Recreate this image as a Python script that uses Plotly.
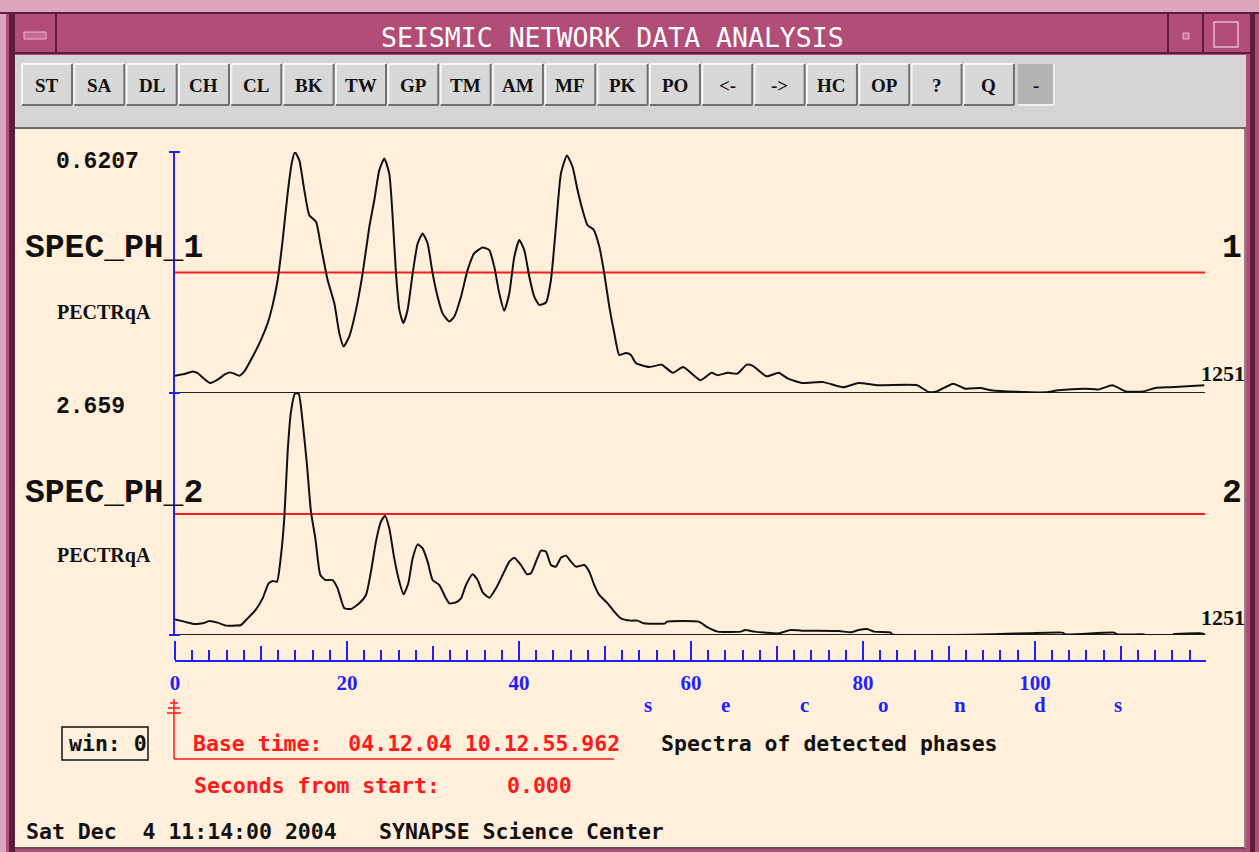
import plotly.graph_objects as go

W, H = 1259, 852

# ---------------- data ----------------
t1 = [0.0, 1.09, 2.05, 2.64, 3.41, 4.11, 4.96, 5.74, 6.32, 6.90, 7.48, 8.06, 8.84, 10.0, 10.78,
      11.36, 11.94, 12.52, 13.10, 13.57, 13.95, 14.46, 15.04, 15.62, 16.40, 16.98, 17.75, 18.53,
      19.11, 19.61, 20.27, 21.05, 21.82, 22.60, 23.18, 23.76, 24.34, 24.92, 25.31, 25.70, 26.09,
      26.55, 27.05, 27.64, 28.22, 28.80, 29.38, 29.96, 30.54, 31.12, 31.90, 32.48, 33.26, 34.03,
      34.81, 35.78, 36.55, 37.13, 37.71, 38.29, 38.88, 39.46, 40.04, 40.62, 41.20, 41.78, 42.36,
      43.14, 43.72, 44.30, 44.88, 45.58, 46.24, 46.82, 47.40, 47.98, 48.68, 49.34, 49.92, 50.50,
      51.09, 51.67, 52.44, 53.02,
      53.6, 55.2, 56.6, 57.9, 59.1, 61.1, 62.4, 63.1, 64.3, 65.4, 66.5, 67.2, 68.8, 70.2, 71.3,
      72.9, 75.4, 77.7, 79.5, 81.8, 86.3, 87.6, 88.5, 90.5, 91.9, 93.7, 94.9, 97.9, 101.3, 102.7,
      105.8, 107.4, 109.0, 110.6, 112.6, 114.0, 115.8, 119.7]
v1 = [0.0445, 0.0488, 0.0556, 0.0514, 0.036, 0.0257, 0.0342, 0.0471, 0.0531, 0.0497, 0.0445,
      0.0556, 0.0856, 0.137, 0.180, 0.227, 0.291, 0.394, 0.514, 0.591, 0.6207, 0.599, 0.522,
      0.458, 0.441, 0.377, 0.291, 0.231, 0.154, 0.120, 0.146, 0.214, 0.308, 0.428, 0.497, 0.574,
      0.604, 0.565, 0.454, 0.308, 0.214, 0.180, 0.214, 0.308, 0.385, 0.411, 0.385, 0.308, 0.248,
      0.205, 0.184, 0.197, 0.248, 0.317, 0.360, 0.375, 0.368, 0.325, 0.257, 0.212, 0.257, 0.351,
      0.394, 0.368, 0.300, 0.248, 0.227, 0.233, 0.291, 0.428, 0.565, 0.612, 0.582, 0.522, 0.471,
      0.432, 0.421, 0.377, 0.308, 0.223, 0.154, 0.098, 0.103, 0.098,
      0.077, 0.067, 0.073, 0.052, 0.067, 0.033, 0.052, 0.046, 0.052, 0.050, 0.073, 0.070, 0.043,
      0.052, 0.037, 0.026, 0.028, 0.015, 0.026, 0.020, 0.020, 0.003, 0.003, 0.024, 0.011, 0.013,
      0.007, 0.003, 0.002, 0.007, 0.011, 0.009, 0.020, 0.004, 0.004, 0.013, 0.015, 0.020]

t2 = [0.0, 1.09, 2.25, 3.22, 4.0, 4.96, 5.93, 6.90, 7.67, 8.45, 9.42, 10.19, 10.89, 11.36, 11.86,
      12.33, 12.71, 13.10, 13.49, 13.95, 14.38, 14.84, 15.35, 15.81, 16.32, 16.90, 17.48, 18.33,
      18.91, 19.69, 20.47, 21.43, 22.21, 22.79, 23.37, 23.95, 24.42, 24.92, 25.50, 26.09, 26.59,
      27.13, 27.64, 28.22, 28.80, 29.38, 29.96, 30.74, 31.51, 31.90, 32.67, 33.26, 33.84, 34.61,
      35.19, 35.78, 36.55, 37.33, 38.10, 38.88, 39.46, 40.23, 40.93, 41.40, 41.98, 42.56, 43.14,
      43.72, 44.30, 44.88, 45.47, 46.05, 46.63, 47.60, 48.18, 48.76, 49.34, 50.31, 51.09, 51.86,
      53.02,
      53.8, 54.5, 57.0, 57.2, 60.9, 61.8, 63.1, 65.8, 66.3, 67.4, 70.2, 70.9, 71.6, 72.9, 77.2,
      78.6, 79.5, 80.5, 81.3, 83.2, 83.4, 95.0, 103.2, 103.6, 109.2, 109.6, 112.5, 113.0, 116.0,
      116.2, 119.2, 119.8]
v2 = [0.172, 0.147, 0.121, 0.128, 0.154, 0.136, 0.103, 0.103, 0.110, 0.183, 0.282, 0.403, 0.568,
      0.593, 0.586, 0.879, 1.282, 2.015, 2.454, 2.652, 2.652, 2.344, 1.868, 1.355, 1.062, 0.659,
      0.604, 0.604, 0.513, 0.293, 0.286, 0.348, 0.440, 0.696, 1.026, 1.245, 1.311, 1.172, 0.842,
      0.586, 0.447, 0.568, 0.842, 0.996, 0.952, 0.806, 0.604, 0.549, 0.403, 0.348, 0.359, 0.403,
      0.549, 0.667, 0.604, 0.469, 0.410, 0.513, 0.659, 0.806, 0.850, 0.769, 0.667, 0.678, 0.806,
      0.927, 0.916, 0.769, 0.751, 0.850, 0.872, 0.806, 0.751, 0.769, 0.696, 0.549, 0.440, 0.348,
      0.256, 0.183, 0.158,
      0.158, 0.128, 0.128, 0.147, 0.147, 0.092, 0.037, 0.037, 0.055, 0.037, 0.018, 0.037, 0.055,
      0.048, 0.044, 0.029, 0.055, 0.066, 0.037, 0.029, 0.007, 0.007, 0.026, 0.007, 0.026, 0.007,
      0.007, 0.0, 0.0, 0.011, 0.018, 0.007]

Y1_MAX = 0.6207
Y2_MAX = 2.659
Y1_LABEL = "0.6207"
Y2_LABEL = "2.659"
TRACE_NAMES = ["SPEC_PH_1", "SPEC_PH_2"]
TRACE_NUMS = ["1", "2"]
COMPONENT = "PECTRqA"
NSAMP = "1251"
X_TICKS = [0, 20, 40, 60, 80, 100]
X_MEDIUM = [10, 30, 50, 70, 90, 110]
X_MINOR = [v for v in range(2, 120, 2) if v % 10 != 0]
UNIT_LETTERS = ["s", "e", "c", "o", "n", "d", "s"]
BUTTONS = ["ST", "SA", "DL", "CH", "CL", "BK", "TW", "GP", "TM", "AM", "MF", "PK", "PO",
           "<-", "->", "HC", "OP", "?", "Q"]
TITLE = "SEISMIC NETWORK DATA ANALYSIS"

# ---------------- styling ----------------
BLUE = "#1f1fff"
RED = "#ff1a1a"
PANEL = "#ffefdb"
PINK = "#b24d78"
PINK_LIGHT = "#dca4bd"
MAROON = "#5c1d3a"
GRAY = "#d4d4d4"
MONO = "Liberation Mono, DejaVu Sans Mono, monospace"
SERIF = "Liberation Serif, DejaVu Serif, serif"
NARROW = "DejaVu Sans Mono, Liberation Mono, monospace"
TITLEFONT = "DejaVu Sans Mono, monospace"


def X(px):
    return px / W


def Y(py):
    return 1 - py / H


XD = [X(175), X(1206)]
XR = [0, 119.9]

fig = go.Figure()
fig.add_trace(go.Scatter(x=t1, y=v1, mode="lines",
                         line=dict(color="#111111", width=2, shape="spline", smoothing=0.5),
                         xaxis="x", yaxis="y", hoverinfo="skip"))
fig.add_trace(go.Scatter(x=t2, y=v2, mode="lines",
                         line=dict(color="#111111", width=2, shape="spline", smoothing=0.5),
                         xaxis="x", yaxis="y2", hoverinfo="skip"))
# empty traces so the ruler axes get drawn
for xa in ("x2", "x3", "x4"):
    fig.add_trace(go.Scatter(x=[None], y=[None], mode="lines", xaxis=xa, yaxis="y2",
                             hoverinfo="skip", showlegend=False))

shapes = []


def rect(x0, y0, x1, y1, fill=None, line=None, lw=0, layer="below"):
    shapes.append(dict(type="rect", xref="paper", yref="paper", x0=X(x0), x1=X(x1),
                       y0=Y(y0), y1=Y(y1), fillcolor=fill or "rgba(0,0,0,0)",
                       line=dict(color=line or "rgba(0,0,0,0)", width=lw), layer=layer))


def seg(x0, y0, x1, y1, color, lw=1, layer="below"):
    shapes.append(dict(type="line", xref="paper", yref="paper", x0=X(x0), x1=X(x1),
                       y0=Y(y0), y1=Y(y1), line=dict(color=color, width=lw), layer=layer))


# window frame
rect(0, 0, W, 13, fill=PINK_LIGHT)
rect(0, 0, 6, H, fill=PINK_LIGHT)
rect(9, 13, 15, H, fill=MAROON)
rect(1250, 13, 1255, H, fill=MAROON)
seg(0, 13, W, 13, MAROON, 2)
seg(9, 53, 1250, 53, MAROON, 2)
for xx in (56, 1168, 1203):
    seg(xx, 14, xx, 52, MAROON, 2)
# title bar widgets
rect(24, 32, 46, 39, fill="#c86a92", line="#e8b8cc", lw=1)
rect(1183, 33, 1189, 39, fill="#c86a92", line="#e8b8cc", lw=1)
rect(1214, 22, 1238, 47, fill=PINK, line="#e8b8cc", lw=1.5)

# toolbar
rect(15, 55, 1246, 128, fill=GRAY)
seg(15, 128, 1246, 128, "#6a6a6a", 2)
# plotting panel
rect(15, 129, 1246, 847, fill=PANEL)
seg(15, 848, 1246, 848, "#555555", 2)
seg(1245, 129, 1245, 848, "#888888", 2)

# buttons
for i, lab in enumerate(BUTTONS):
    bx0 = 22 + i * 52.33
    bx1 = bx0 + 50
    rect(bx0, 64, bx1, 105, fill="#d8d8d8")
    seg(bx0, 64, bx1, 64, "#f6f6f6", 2)
    seg(bx0, 64, bx0, 105, "#f6f6f6", 2)
    seg(bx0, 105, bx1, 105, "#707070", 2)
    seg(bx1, 64, bx1, 105, "#707070", 2)
rect(1018, 64, 1054, 105, fill="#b4b4b4")
seg(1018, 105, 1054, 105, "#f0f0f0", 2)
seg(1054, 64, 1054, 105, "#f0f0f0", 2)

# traces decorations: red midlines & black baselines (data coordinates)
for yref, ymax in (("y", Y1_MAX), ("y2", Y2_MAX)):
    shapes.append(dict(type="line", xref="x", yref=yref, x0=0, x1=119.8, y0=ymax / 2, y1=ymax / 2,
                       line=dict(color=RED, width=2), layer="below"))
    shapes.append(dict(type="line", xref="x", yref=yref, x0=0, x1=119.8, y0=0, y1=0,
                       line=dict(color="#222222", width=2), layer="below"))
# small blue cross ticks on vertical axis
for yy in (152, 393, 635):
    seg(169, yy, 180, yy, BLUE, 2, layer="above")

# cursor marker and bracket
seg(174, 699, 174, 759, RED, 1.5, layer="above")
seg(174, 759, 614, 759, RED, 1.5, layer="above")
for yy, hw in ((703, 4), (708, 6), (713, 7)):
    seg(174 - hw, yy, 174 + hw, yy, RED, 1.5, layer="above")
# win box
rect(62, 727, 148, 760, line="#111111", lw=1.5, layer="above")

annotations = []


def ann(text, x, y, size, color="#111111", family=MONO, weight="bold", xanchor="left"):
    annotations.append(dict(text=text, x=X(x), y=Y(y), xref="paper", yref="paper",
                            showarrow=False, xanchor=xanchor, yanchor="middle",
                            font=dict(size=size, color=color, family=family, weight=weight)))


ann(TITLE, 612, 37, 26.5, color="#ffffff", family=TITLEFONT, weight=300, xanchor="center")
for i, lab in enumerate(BUTTONS):
    ann(lab, 22 + i * 52.33 + 25, 85, 19, family=SERIF, xanchor="center")
ann("-", 1036, 85, 19, family=SERIF, xanchor="center")

# trace labels
for ytop, ymid, ycomp, ynum, lab, name, num in ((162, 249, 313, 373, Y1_LABEL, TRACE_NAMES[0], TRACE_NUMS[0]),
                                                (407, 493, 555, 617, Y2_LABEL, TRACE_NAMES[1], TRACE_NUMS[1])):
    ann(lab, 54, ytop, 23)
    ann(name, 23, ymid, 33)
    ann(COMPONENT, 55, ycomp, 20, family=SERIF)
    ann(num, 1232, ymid, 33, xanchor="center")
    ann(NSAMP, 1199, ynum, 22, family=SERIF)

# axis unit letters
for lx, letter in zip([648, 725, 804, 883, 960, 1040, 1118], UNIT_LETTERS):
    ann(letter, lx, 705, 21, color=BLUE, family=SERIF, xanchor="center")

# info texts
TXT = 21.5
ann("win:\u00a00", 67, 743, TXT, family=NARROW, weight="bold")
ann("Base time:\u00a0\u00a004.12.04 10.12.55.962", 191, 743, TXT, color=RED, family=NARROW)
ann("Spectra of detected phases", 659, 743, TXT, family=NARROW)
ann("Seconds from start:", 192, 785, TXT, color=RED, family=NARROW)
ann("0.000", 505, 785, TXT, color=RED, family=NARROW)
ann("Sat Dec\u00a0\u00a04 11:14:00 2004", 24, 831, TXT, family=NARROW)
ann("SYNAPSE Science Center", 377, 831, TXT, family=NARROW)

common_y = dict(showgrid=False, zeroline=False, showticklabels=False, ticks="",
                showline=True, linecolor=BLUE, linewidth=2, anchor="x", fixedrange=True,
                automargin=False)

fig.update_layout(
    width=W, height=H, margin=dict(l=0, r=0, t=0, b=0, pad=0, autoexpand=False),
    paper_bgcolor=PINK, plot_bgcolor="rgba(0,0,0,0)", showlegend=False,
    xaxis=dict(domain=XD, range=XR, visible=False, fixedrange=True, automargin=False),
    yaxis=dict(domain=[Y(393), Y(152)], range=[0, Y1_MAX], **common_y),
    yaxis2=dict(domain=[Y(635), Y(393)], range=[0, Y2_MAX], **common_y),
    xaxis2=dict(overlaying="x", anchor="free", position=Y(661), side="top", range=XR,
                showline=True, linecolor=BLUE, linewidth=2, ticks="outside", tickvals=X_TICKS,
                ticklen=19, tickwidth=2, tickcolor=BLUE, showticklabels=False, showgrid=False,
                zeroline=False, fixedrange=True, automargin=False,
                minor=dict(tickvals=X_MINOR, ticklen=10, tickwidth=2, tickcolor=BLUE,
                           ticks="outside", showgrid=False)),
    xaxis3=dict(overlaying="x", anchor="free", position=Y(661), side="top", range=XR,
                showline=False, ticks="outside", tickvals=X_MEDIUM, ticklen=15, tickwidth=2,
                tickcolor=BLUE, showticklabels=False, showgrid=False, zeroline=False,
                fixedrange=True, automargin=False),
    xaxis4=dict(overlaying="x", anchor="free", position=Y(668), side="bottom", range=XR,
                showline=False, ticks="", tickvals=X_TICKS, ticktext=[str(v) for v in X_TICKS],
                tickfont=dict(size=21, color=BLUE, family=SERIF, weight="bold"),
                showgrid=False, zeroline=False, fixedrange=True, automargin=False),
    shapes=shapes, annotations=annotations,
)

fig.write_html("out.html")
